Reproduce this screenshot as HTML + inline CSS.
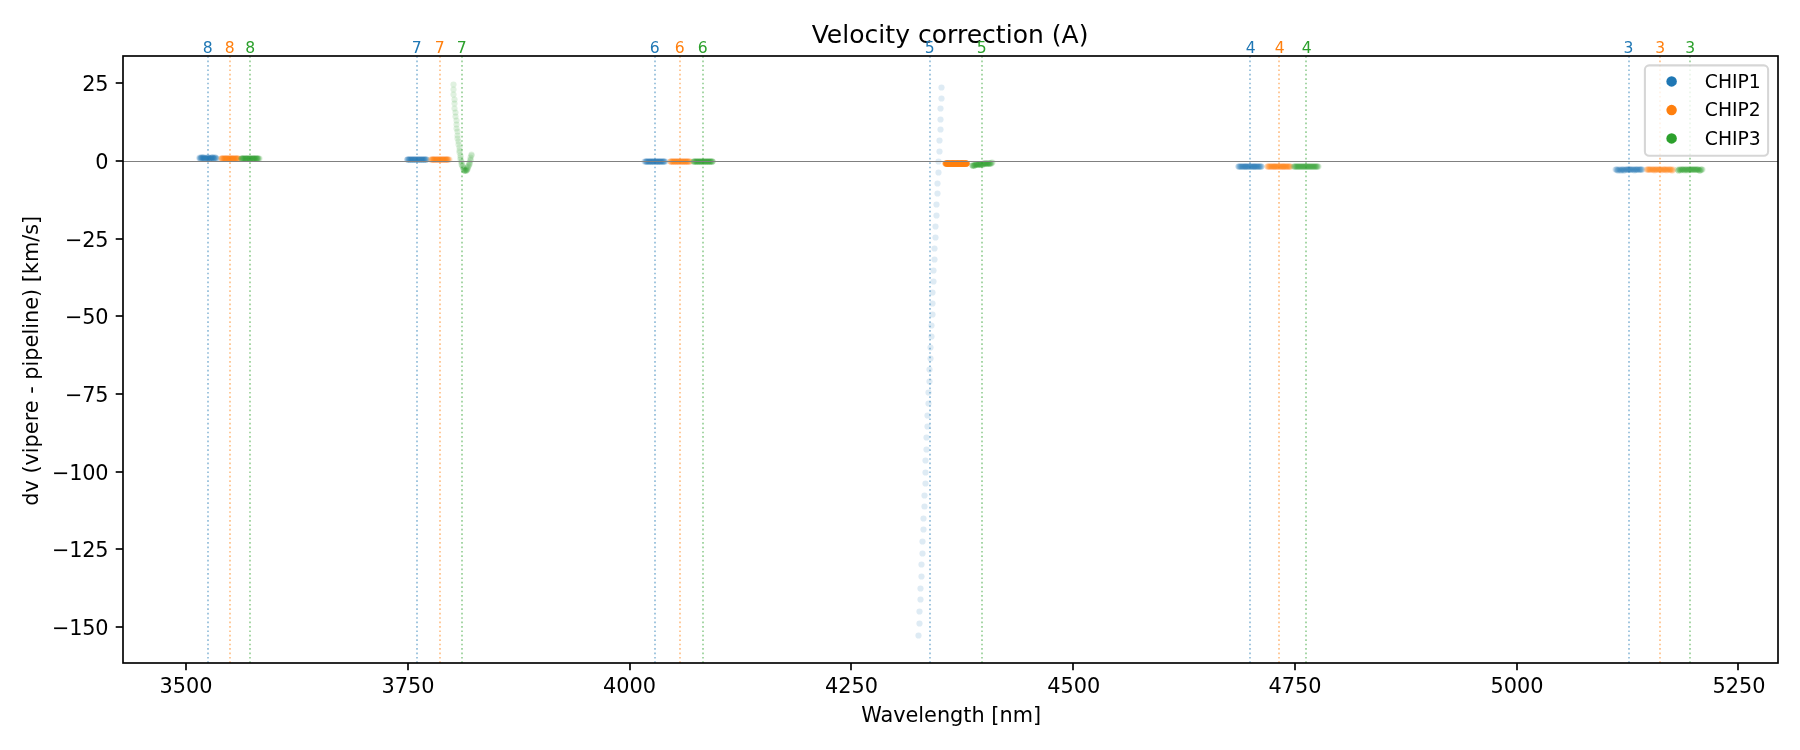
<!DOCTYPE html>
<html><head><meta charset="utf-8"><title>Velocity correction (A)</title>
<style>html,body{margin:0;padding:0;background:#fff;overflow:hidden}svg{display:block;will-change:transform}</style></head>
<body>
<svg width="1800" height="750" viewBox="0 0 1800 750" font-family='"DejaVu Sans","Liberation Sans",sans-serif'>
<rect width="1800" height="750" fill="#fff"/>
<defs><clipPath id="ax"><rect x="123.0" y="56.0" width="1655.0" height="607.0"/></clipPath></defs>
<g clip-path="url(#ax)">
<g fill="#1f77b4" fill-opacity="0.15"><circle cx="199.5" cy="157.5" r="3.1"/><circle cx="199.5" cy="158.5" r="3.1"/><circle cx="200.5" cy="157.5" r="3.1"/><circle cx="200.5" cy="158.5" r="3.1"/><circle cx="200.5" cy="158.5" r="3.1"/><circle cx="201.5" cy="157.5" r="3.1"/><circle cx="201.5" cy="157.5" r="3.1"/><circle cx="201.5" cy="158.5" r="3.1"/><circle cx="202.5" cy="157.5" r="3.1"/><circle cx="202.5" cy="157.5" r="3.1"/><circle cx="202.5" cy="158.5" r="3.1"/><circle cx="203.5" cy="157.5" r="3.1"/><circle cx="203.5" cy="158.5" r="3.1"/><circle cx="203.5" cy="157.5" r="3.1"/><circle cx="204.5" cy="158.5" r="3.1"/><circle cx="204.5" cy="157.5" r="3.1"/><circle cx="204.5" cy="158.5" r="3.1"/><circle cx="205.5" cy="158.5" r="3.1"/><circle cx="205.5" cy="158.5" r="3.1"/><circle cx="205.5" cy="158.5" r="3.1"/><circle cx="206.5" cy="158.5" r="3.1"/><circle cx="206.5" cy="157.5" r="3.1"/><circle cx="207.5" cy="158.5" r="3.1"/><circle cx="207.5" cy="158.5" r="3.1"/><circle cx="207.5" cy="157.5" r="3.1"/><circle cx="208.5" cy="157.5" r="3.1"/><circle cx="208.5" cy="158.5" r="3.1"/><circle cx="208.5" cy="157.5" r="3.1"/><circle cx="209.5" cy="158.5" r="3.1"/><circle cx="209.5" cy="158.5" r="3.1"/><circle cx="209.5" cy="158.5" r="3.1"/><circle cx="210.5" cy="158.5" r="3.1"/><circle cx="210.5" cy="157.5" r="3.1"/><circle cx="210.5" cy="158.5" r="3.1"/><circle cx="211.5" cy="157.5" r="3.1"/><circle cx="211.5" cy="158.5" r="3.1"/><circle cx="211.5" cy="158.5" r="3.1"/><circle cx="212.5" cy="157.5" r="3.1"/><circle cx="212.5" cy="157.5" r="3.1"/><circle cx="212.5" cy="157.5" r="3.1"/><circle cx="213.5" cy="158.5" r="3.1"/><circle cx="213.5" cy="157.5" r="3.1"/><circle cx="213.5" cy="158.5" r="3.1"/><circle cx="214.5" cy="157.5" r="3.1"/><circle cx="214.5" cy="158.5" r="3.1"/><circle cx="215.5" cy="157.5" r="3.1"/><circle cx="215.5" cy="157.5" r="3.1"/><circle cx="215.5" cy="158.5" r="3.1"/><circle cx="216.5" cy="158.5" r="3.1"/><circle cx="216.5" cy="158.5" r="3.1"/></g>
<g fill="#ff7f0e" fill-opacity="0.15"><circle cx="221.5" cy="158.5" r="3.1"/><circle cx="221.5" cy="158.5" r="3.1"/><circle cx="221.5" cy="158.5" r="3.1"/><circle cx="222.5" cy="158.5" r="3.1"/><circle cx="222.5" cy="158.5" r="3.1"/><circle cx="222.5" cy="158.5" r="3.1"/><circle cx="223.5" cy="158.5" r="3.1"/><circle cx="223.5" cy="158.5" r="3.1"/><circle cx="224.5" cy="158.5" r="3.1"/><circle cx="224.5" cy="158.5" r="3.1"/><circle cx="224.5" cy="158.5" r="3.1"/><circle cx="225.5" cy="158.5" r="3.1"/><circle cx="225.5" cy="158.5" r="3.1"/><circle cx="225.5" cy="158.5" r="3.1"/><circle cx="226.5" cy="158.5" r="3.1"/><circle cx="226.5" cy="158.5" r="3.1"/><circle cx="226.5" cy="158.5" r="3.1"/><circle cx="227.5" cy="158.5" r="3.1"/><circle cx="227.5" cy="158.5" r="3.1"/><circle cx="227.5" cy="158.5" r="3.1"/><circle cx="228.5" cy="158.5" r="3.1"/><circle cx="228.5" cy="158.5" r="3.1"/><circle cx="229.5" cy="158.5" r="3.1"/><circle cx="229.5" cy="158.5" r="3.1"/><circle cx="229.5" cy="158.5" r="3.1"/><circle cx="230.5" cy="158.5" r="3.1"/><circle cx="230.5" cy="158.5" r="3.1"/><circle cx="230.5" cy="158.5" r="3.1"/><circle cx="231.5" cy="158.5" r="3.1"/><circle cx="231.5" cy="158.5" r="3.1"/><circle cx="231.5" cy="158.5" r="3.1"/><circle cx="232.5" cy="158.5" r="3.1"/><circle cx="232.5" cy="158.5" r="3.1"/><circle cx="232.5" cy="158.5" r="3.1"/><circle cx="233.5" cy="158.5" r="3.1"/><circle cx="233.5" cy="158.5" r="3.1"/><circle cx="233.5" cy="158.5" r="3.1"/><circle cx="234.5" cy="158.5" r="3.1"/><circle cx="234.5" cy="158.5" r="3.1"/><circle cx="235.5" cy="158.5" r="3.1"/><circle cx="235.5" cy="158.5" r="3.1"/><circle cx="235.5" cy="158.5" r="3.1"/><circle cx="236.5" cy="158.5" r="3.1"/><circle cx="236.5" cy="158.5" r="3.1"/><circle cx="236.5" cy="158.5" r="3.1"/><circle cx="237.5" cy="158.5" r="3.1"/><circle cx="237.5" cy="158.5" r="3.1"/><circle cx="237.5" cy="158.5" r="3.1"/><circle cx="238.5" cy="158.5" r="3.1"/><circle cx="238.5" cy="158.5" r="3.1"/></g>
<g fill="#2ca02c" fill-opacity="0.15"><circle cx="241.5" cy="158.5" r="3.1"/><circle cx="241.5" cy="158.5" r="3.1"/><circle cx="241.5" cy="158.5" r="3.1"/><circle cx="242.5" cy="158.5" r="3.1"/><circle cx="242.5" cy="158.5" r="3.1"/><circle cx="242.5" cy="158.5" r="3.1"/><circle cx="243.5" cy="158.5" r="3.1"/><circle cx="243.5" cy="158.5" r="3.1"/><circle cx="243.5" cy="158.5" r="3.1"/><circle cx="244.5" cy="158.5" r="3.1"/><circle cx="244.5" cy="158.5" r="3.1"/><circle cx="245.5" cy="158.5" r="3.1"/><circle cx="245.5" cy="158.5" r="3.1"/><circle cx="245.5" cy="158.5" r="3.1"/><circle cx="246.5" cy="158.5" r="3.1"/><circle cx="246.5" cy="158.5" r="3.1"/><circle cx="246.5" cy="158.5" r="3.1"/><circle cx="247.5" cy="158.5" r="3.1"/><circle cx="247.5" cy="158.5" r="3.1"/><circle cx="247.5" cy="158.5" r="3.1"/><circle cx="248.5" cy="158.5" r="3.1"/><circle cx="248.5" cy="158.5" r="3.1"/><circle cx="249.5" cy="158.5" r="3.1"/><circle cx="249.5" cy="158.5" r="3.1"/><circle cx="249.5" cy="158.5" r="3.1"/><circle cx="250.5" cy="158.5" r="3.1"/><circle cx="250.5" cy="158.5" r="3.1"/><circle cx="250.5" cy="158.5" r="3.1"/><circle cx="251.5" cy="158.5" r="3.1"/><circle cx="251.5" cy="158.5" r="3.1"/><circle cx="252.5" cy="158.5" r="3.1"/><circle cx="252.5" cy="158.5" r="3.1"/><circle cx="252.5" cy="158.5" r="3.1"/><circle cx="253.5" cy="158.5" r="3.1"/><circle cx="253.5" cy="158.5" r="3.1"/><circle cx="253.5" cy="158.5" r="3.1"/><circle cx="254.5" cy="158.5" r="3.1"/><circle cx="254.5" cy="158.5" r="3.1"/><circle cx="254.5" cy="158.5" r="3.1"/><circle cx="255.5" cy="158.5" r="3.1"/><circle cx="255.5" cy="158.5" r="3.1"/><circle cx="256.5" cy="158.5" r="3.1"/><circle cx="256.5" cy="158.5" r="3.1"/><circle cx="256.5" cy="158.5" r="3.1"/><circle cx="257.5" cy="158.5" r="3.1"/><circle cx="257.5" cy="158.5" r="3.1"/><circle cx="257.5" cy="158.5" r="3.1"/><circle cx="258.5" cy="158.5" r="3.1"/><circle cx="258.5" cy="158.5" r="3.1"/><circle cx="259.5" cy="158.5" r="3.1"/></g>
<g fill="#1f77b4" fill-opacity="0.15"><circle cx="407.5" cy="159.5" r="3.1"/><circle cx="407.5" cy="159.5" r="3.1"/><circle cx="407.5" cy="159.5" r="3.1"/><circle cx="408.5" cy="159.5" r="3.1"/><circle cx="408.5" cy="159.5" r="3.1"/><circle cx="409.5" cy="159.5" r="3.1"/><circle cx="409.5" cy="159.5" r="3.1"/><circle cx="409.5" cy="159.5" r="3.1"/><circle cx="410.5" cy="159.5" r="3.1"/><circle cx="410.5" cy="159.5" r="3.1"/><circle cx="411.5" cy="159.5" r="3.1"/><circle cx="411.5" cy="159.5" r="3.1"/><circle cx="411.5" cy="159.5" r="3.1"/><circle cx="412.5" cy="159.5" r="3.1"/><circle cx="412.5" cy="159.5" r="3.1"/><circle cx="413.5" cy="159.5" r="3.1"/><circle cx="413.5" cy="159.5" r="3.1"/><circle cx="413.5" cy="159.5" r="3.1"/><circle cx="414.5" cy="159.5" r="3.1"/><circle cx="414.5" cy="159.5" r="3.1"/><circle cx="415.5" cy="159.5" r="3.1"/><circle cx="415.5" cy="159.5" r="3.1"/><circle cx="415.5" cy="159.5" r="3.1"/><circle cx="416.5" cy="159.5" r="3.1"/><circle cx="416.5" cy="159.5" r="3.1"/><circle cx="417.5" cy="159.5" r="3.1"/><circle cx="417.5" cy="159.5" r="3.1"/><circle cx="418.5" cy="159.5" r="3.1"/><circle cx="418.5" cy="159.5" r="3.1"/><circle cx="418.5" cy="159.5" r="3.1"/><circle cx="419.5" cy="159.5" r="3.1"/><circle cx="419.5" cy="159.5" r="3.1"/><circle cx="420.5" cy="159.5" r="3.1"/><circle cx="420.5" cy="159.5" r="3.1"/><circle cx="420.5" cy="159.5" r="3.1"/><circle cx="421.5" cy="159.5" r="3.1"/><circle cx="421.5" cy="159.5" r="3.1"/><circle cx="422.5" cy="159.5" r="3.1"/><circle cx="422.5" cy="159.5" r="3.1"/><circle cx="422.5" cy="159.5" r="3.1"/><circle cx="423.5" cy="159.5" r="3.1"/><circle cx="423.5" cy="159.5" r="3.1"/><circle cx="424.5" cy="159.5" r="3.1"/><circle cx="424.5" cy="159.5" r="3.1"/><circle cx="424.5" cy="159.5" r="3.1"/><circle cx="425.5" cy="159.5" r="3.1"/><circle cx="425.5" cy="159.5" r="3.1"/><circle cx="426.5" cy="159.5" r="3.1"/><circle cx="426.5" cy="159.5" r="3.1"/><circle cx="426.5" cy="159.5" r="3.1"/></g>
<g fill="#ff7f0e" fill-opacity="0.15"><circle cx="430.5" cy="159.5" r="3.1"/><circle cx="431.5" cy="159.5" r="3.1"/><circle cx="431.5" cy="159.5" r="3.1"/><circle cx="432.5" cy="159.5" r="3.1"/><circle cx="432.5" cy="159.5" r="3.1"/><circle cx="432.5" cy="159.5" r="3.1"/><circle cx="433.5" cy="159.5" r="3.1"/><circle cx="433.5" cy="159.5" r="3.1"/><circle cx="433.5" cy="159.5" r="3.1"/><circle cx="434.5" cy="159.5" r="3.1"/><circle cx="434.5" cy="159.5" r="3.1"/><circle cx="434.5" cy="159.5" r="3.1"/><circle cx="435.5" cy="159.5" r="3.1"/><circle cx="435.5" cy="159.5" r="3.1"/><circle cx="436.5" cy="159.5" r="3.1"/><circle cx="436.5" cy="159.5" r="3.1"/><circle cx="436.5" cy="159.5" r="3.1"/><circle cx="437.5" cy="159.5" r="3.1"/><circle cx="437.5" cy="159.5" r="3.1"/><circle cx="437.5" cy="159.5" r="3.1"/><circle cx="438.5" cy="159.5" r="3.1"/><circle cx="438.5" cy="159.5" r="3.1"/><circle cx="439.5" cy="159.5" r="3.1"/><circle cx="439.5" cy="159.5" r="3.1"/><circle cx="439.5" cy="159.5" r="3.1"/><circle cx="440.5" cy="159.5" r="3.1"/><circle cx="440.5" cy="159.5" r="3.1"/><circle cx="440.5" cy="159.5" r="3.1"/><circle cx="441.5" cy="159.5" r="3.1"/><circle cx="441.5" cy="159.5" r="3.1"/><circle cx="442.5" cy="159.5" r="3.1"/><circle cx="442.5" cy="159.5" r="3.1"/><circle cx="442.5" cy="159.5" r="3.1"/><circle cx="443.5" cy="159.5" r="3.1"/><circle cx="443.5" cy="159.5" r="3.1"/><circle cx="443.5" cy="159.5" r="3.1"/><circle cx="444.5" cy="159.5" r="3.1"/><circle cx="444.5" cy="159.5" r="3.1"/><circle cx="445.5" cy="159.5" r="3.1"/><circle cx="445.5" cy="159.5" r="3.1"/><circle cx="445.5" cy="159.5" r="3.1"/><circle cx="446.5" cy="159.5" r="3.1"/><circle cx="446.5" cy="159.5" r="3.1"/><circle cx="446.5" cy="159.5" r="3.1"/><circle cx="447.5" cy="159.5" r="3.1"/><circle cx="447.5" cy="159.5" r="3.1"/><circle cx="447.5" cy="159.5" r="3.1"/><circle cx="448.5" cy="159.5" r="3.1"/><circle cx="448.5" cy="159.5" r="3.1"/><circle cx="449.5" cy="159.5" r="3.1"/></g>
<g fill="#1f77b4" fill-opacity="0.15"><circle cx="644.5" cy="161.5" r="3.1"/><circle cx="645.5" cy="161.5" r="3.1"/><circle cx="645.5" cy="161.5" r="3.1"/><circle cx="646.5" cy="161.5" r="3.1"/><circle cx="646.5" cy="161.5" r="3.1"/><circle cx="646.5" cy="161.5" r="3.1"/><circle cx="647.5" cy="161.5" r="3.1"/><circle cx="647.5" cy="161.5" r="3.1"/><circle cx="648.5" cy="161.5" r="3.1"/><circle cx="648.5" cy="161.5" r="3.1"/><circle cx="649.5" cy="161.5" r="3.1"/><circle cx="649.5" cy="161.5" r="3.1"/><circle cx="649.5" cy="161.5" r="3.1"/><circle cx="650.5" cy="161.5" r="3.1"/><circle cx="650.5" cy="161.5" r="3.1"/><circle cx="651.5" cy="161.5" r="3.1"/><circle cx="651.5" cy="161.5" r="3.1"/><circle cx="651.5" cy="161.5" r="3.1"/><circle cx="652.5" cy="161.5" r="3.1"/><circle cx="652.5" cy="161.5" r="3.1"/><circle cx="653.5" cy="161.5" r="3.1"/><circle cx="653.5" cy="161.5" r="3.1"/><circle cx="653.5" cy="161.5" r="3.1"/><circle cx="654.5" cy="161.5" r="3.1"/><circle cx="654.5" cy="161.5" r="3.1"/><circle cx="655.5" cy="161.5" r="3.1"/><circle cx="655.5" cy="161.5" r="3.1"/><circle cx="656.5" cy="161.5" r="3.1"/><circle cx="656.5" cy="161.5" r="3.1"/><circle cx="656.5" cy="161.5" r="3.1"/><circle cx="657.5" cy="161.5" r="3.1"/><circle cx="657.5" cy="161.5" r="3.1"/><circle cx="658.5" cy="161.5" r="3.1"/><circle cx="658.5" cy="161.5" r="3.1"/><circle cx="658.5" cy="161.5" r="3.1"/><circle cx="659.5" cy="161.5" r="3.1"/><circle cx="659.5" cy="161.5" r="3.1"/><circle cx="660.5" cy="161.5" r="3.1"/><circle cx="660.5" cy="161.5" r="3.1"/><circle cx="660.5" cy="161.5" r="3.1"/><circle cx="661.5" cy="161.5" r="3.1"/><circle cx="661.5" cy="161.5" r="3.1"/><circle cx="662.5" cy="161.5" r="3.1"/><circle cx="662.5" cy="161.5" r="3.1"/><circle cx="663.5" cy="161.5" r="3.1"/><circle cx="663.5" cy="161.5" r="3.1"/><circle cx="663.5" cy="161.5" r="3.1"/><circle cx="664.5" cy="161.5" r="3.1"/><circle cx="664.5" cy="161.5" r="3.1"/><circle cx="665.5" cy="161.5" r="3.1"/></g>
<g fill="#ff7f0e" fill-opacity="0.15"><circle cx="670.5" cy="161.5" r="3.1"/><circle cx="670.5" cy="161.5" r="3.1"/><circle cx="670.5" cy="161.5" r="3.1"/><circle cx="671.5" cy="161.5" r="3.1"/><circle cx="671.5" cy="161.5" r="3.1"/><circle cx="672.5" cy="161.5" r="3.1"/><circle cx="672.5" cy="161.5" r="3.1"/><circle cx="672.5" cy="161.5" r="3.1"/><circle cx="673.5" cy="161.5" r="3.1"/><circle cx="673.5" cy="161.5" r="3.1"/><circle cx="674.5" cy="161.5" r="3.1"/><circle cx="674.5" cy="161.5" r="3.1"/><circle cx="674.5" cy="161.5" r="3.1"/><circle cx="675.5" cy="161.5" r="3.1"/><circle cx="675.5" cy="161.5" r="3.1"/><circle cx="676.5" cy="161.5" r="3.1"/><circle cx="676.5" cy="161.5" r="3.1"/><circle cx="676.5" cy="161.5" r="3.1"/><circle cx="677.5" cy="161.5" r="3.1"/><circle cx="677.5" cy="161.5" r="3.1"/><circle cx="678.5" cy="161.5" r="3.1"/><circle cx="678.5" cy="161.5" r="3.1"/><circle cx="678.5" cy="161.5" r="3.1"/><circle cx="679.5" cy="161.5" r="3.1"/><circle cx="679.5" cy="161.5" r="3.1"/><circle cx="680.5" cy="161.5" r="3.1"/><circle cx="680.5" cy="161.5" r="3.1"/><circle cx="681.5" cy="161.5" r="3.1"/><circle cx="681.5" cy="161.5" r="3.1"/><circle cx="681.5" cy="161.5" r="3.1"/><circle cx="682.5" cy="161.5" r="3.1"/><circle cx="682.5" cy="161.5" r="3.1"/><circle cx="683.5" cy="161.5" r="3.1"/><circle cx="683.5" cy="161.5" r="3.1"/><circle cx="683.5" cy="161.5" r="3.1"/><circle cx="684.5" cy="161.5" r="3.1"/><circle cx="684.5" cy="161.5" r="3.1"/><circle cx="685.5" cy="161.5" r="3.1"/><circle cx="685.5" cy="161.5" r="3.1"/><circle cx="685.5" cy="161.5" r="3.1"/><circle cx="686.5" cy="161.5" r="3.1"/><circle cx="686.5" cy="161.5" r="3.1"/><circle cx="687.5" cy="161.5" r="3.1"/><circle cx="687.5" cy="161.5" r="3.1"/><circle cx="687.5" cy="161.5" r="3.1"/><circle cx="688.5" cy="161.5" r="3.1"/><circle cx="688.5" cy="161.5" r="3.1"/><circle cx="689.5" cy="161.5" r="3.1"/><circle cx="689.5" cy="161.5" r="3.1"/><circle cx="690.5" cy="161.5" r="3.1"/></g>
<g fill="#2ca02c" fill-opacity="0.15"><circle cx="693.5" cy="161.5" r="3.1"/><circle cx="693.5" cy="161.5" r="3.1"/><circle cx="694.5" cy="161.5" r="3.1"/><circle cx="694.5" cy="161.5" r="3.1"/><circle cx="694.5" cy="161.5" r="3.1"/><circle cx="695.5" cy="161.5" r="3.1"/><circle cx="695.5" cy="161.5" r="3.1"/><circle cx="696.5" cy="161.5" r="3.1"/><circle cx="696.5" cy="161.5" r="3.1"/><circle cx="696.5" cy="161.5" r="3.1"/><circle cx="697.5" cy="161.5" r="3.1"/><circle cx="697.5" cy="161.5" r="3.1"/><circle cx="698.5" cy="161.5" r="3.1"/><circle cx="698.5" cy="161.5" r="3.1"/><circle cx="698.5" cy="161.5" r="3.1"/><circle cx="699.5" cy="161.5" r="3.1"/><circle cx="699.5" cy="161.5" r="3.1"/><circle cx="700.5" cy="161.5" r="3.1"/><circle cx="700.5" cy="161.5" r="3.1"/><circle cx="700.5" cy="161.5" r="3.1"/><circle cx="701.5" cy="161.5" r="3.1"/><circle cx="701.5" cy="161.5" r="3.1"/><circle cx="702.5" cy="161.5" r="3.1"/><circle cx="702.5" cy="161.5" r="3.1"/><circle cx="702.5" cy="161.5" r="3.1"/><circle cx="703.5" cy="161.5" r="3.1"/><circle cx="703.5" cy="161.5" r="3.1"/><circle cx="704.5" cy="161.5" r="3.1"/><circle cx="704.5" cy="161.5" r="3.1"/><circle cx="704.5" cy="161.5" r="3.1"/><circle cx="705.5" cy="161.5" r="3.1"/><circle cx="705.5" cy="161.5" r="3.1"/><circle cx="706.5" cy="161.5" r="3.1"/><circle cx="706.5" cy="161.5" r="3.1"/><circle cx="706.5" cy="161.5" r="3.1"/><circle cx="707.5" cy="161.5" r="3.1"/><circle cx="707.5" cy="161.5" r="3.1"/><circle cx="708.5" cy="161.5" r="3.1"/><circle cx="708.5" cy="161.5" r="3.1"/><circle cx="708.5" cy="161.5" r="3.1"/><circle cx="709.5" cy="161.5" r="3.1"/><circle cx="709.5" cy="161.5" r="3.1"/><circle cx="710.5" cy="161.5" r="3.1"/><circle cx="710.5" cy="161.5" r="3.1"/><circle cx="710.5" cy="161.5" r="3.1"/><circle cx="711.5" cy="161.5" r="3.1"/><circle cx="711.5" cy="161.5" r="3.1"/><circle cx="712.5" cy="161.5" r="3.1"/><circle cx="712.5" cy="161.5" r="3.1"/><circle cx="712.5" cy="161.5" r="3.1"/></g>
<g fill="#1f77b4" fill-opacity="0.15"><circle cx="1238.5" cy="166.5" r="3.1"/><circle cx="1238.5" cy="166.5" r="3.1"/><circle cx="1239.5" cy="166.5" r="3.1"/><circle cx="1239.5" cy="166.5" r="3.1"/><circle cx="1240.5" cy="166.5" r="3.1"/><circle cx="1240.5" cy="166.5" r="3.1"/><circle cx="1241.5" cy="166.5" r="3.1"/><circle cx="1241.5" cy="166.5" r="3.1"/><circle cx="1242.5" cy="166.5" r="3.1"/><circle cx="1242.5" cy="166.5" r="3.1"/><circle cx="1243.5" cy="166.5" r="3.1"/><circle cx="1243.5" cy="166.5" r="3.1"/><circle cx="1244.5" cy="166.5" r="3.1"/><circle cx="1244.5" cy="166.5" r="3.1"/><circle cx="1245.5" cy="166.5" r="3.1"/><circle cx="1245.5" cy="166.5" r="3.1"/><circle cx="1245.5" cy="166.5" r="3.1"/><circle cx="1246.5" cy="166.5" r="3.1"/><circle cx="1246.5" cy="166.5" r="3.1"/><circle cx="1247.5" cy="166.5" r="3.1"/><circle cx="1247.5" cy="166.5" r="3.1"/><circle cx="1248.5" cy="166.5" r="3.1"/><circle cx="1248.5" cy="166.5" r="3.1"/><circle cx="1249.5" cy="166.5" r="3.1"/><circle cx="1249.5" cy="166.5" r="3.1"/><circle cx="1250.5" cy="166.5" r="3.1"/><circle cx="1250.5" cy="166.5" r="3.1"/><circle cx="1251.5" cy="166.5" r="3.1"/><circle cx="1251.5" cy="166.5" r="3.1"/><circle cx="1252.5" cy="166.5" r="3.1"/><circle cx="1252.5" cy="166.5" r="3.1"/><circle cx="1253.5" cy="166.5" r="3.1"/><circle cx="1253.5" cy="166.5" r="3.1"/><circle cx="1254.5" cy="166.5" r="3.1"/><circle cx="1254.5" cy="166.5" r="3.1"/><circle cx="1254.5" cy="166.5" r="3.1"/><circle cx="1255.5" cy="166.5" r="3.1"/><circle cx="1255.5" cy="166.5" r="3.1"/><circle cx="1256.5" cy="166.5" r="3.1"/><circle cx="1256.5" cy="166.5" r="3.1"/><circle cx="1257.5" cy="166.5" r="3.1"/><circle cx="1257.5" cy="166.5" r="3.1"/><circle cx="1258.5" cy="166.5" r="3.1"/><circle cx="1258.5" cy="166.5" r="3.1"/><circle cx="1259.5" cy="166.5" r="3.1"/><circle cx="1259.5" cy="166.5" r="3.1"/><circle cx="1260.5" cy="166.5" r="3.1"/><circle cx="1260.5" cy="166.5" r="3.1"/><circle cx="1261.5" cy="166.5" r="3.1"/><circle cx="1261.5" cy="166.5" r="3.1"/></g>
<g fill="#ff7f0e" fill-opacity="0.15"><circle cx="1267.5" cy="166.5" r="3.1"/><circle cx="1267.5" cy="166.5" r="3.1"/><circle cx="1268.5" cy="166.5" r="3.1"/><circle cx="1268.5" cy="166.5" r="3.1"/><circle cx="1269.5" cy="166.5" r="3.1"/><circle cx="1269.5" cy="166.5" r="3.1"/><circle cx="1270.5" cy="166.5" r="3.1"/><circle cx="1270.5" cy="166.5" r="3.1"/><circle cx="1271.5" cy="166.5" r="3.1"/><circle cx="1271.5" cy="166.5" r="3.1"/><circle cx="1272.5" cy="166.5" r="3.1"/><circle cx="1272.5" cy="166.5" r="3.1"/><circle cx="1273.5" cy="166.5" r="3.1"/><circle cx="1273.5" cy="166.5" r="3.1"/><circle cx="1274.5" cy="166.5" r="3.1"/><circle cx="1274.5" cy="166.5" r="3.1"/><circle cx="1274.5" cy="166.5" r="3.1"/><circle cx="1275.5" cy="166.5" r="3.1"/><circle cx="1275.5" cy="166.5" r="3.1"/><circle cx="1276.5" cy="166.5" r="3.1"/><circle cx="1276.5" cy="166.5" r="3.1"/><circle cx="1277.5" cy="166.5" r="3.1"/><circle cx="1277.5" cy="166.5" r="3.1"/><circle cx="1278.5" cy="166.5" r="3.1"/><circle cx="1278.5" cy="166.5" r="3.1"/><circle cx="1279.5" cy="166.5" r="3.1"/><circle cx="1279.5" cy="166.5" r="3.1"/><circle cx="1280.5" cy="166.5" r="3.1"/><circle cx="1280.5" cy="166.5" r="3.1"/><circle cx="1281.5" cy="166.5" r="3.1"/><circle cx="1281.5" cy="166.5" r="3.1"/><circle cx="1282.5" cy="166.5" r="3.1"/><circle cx="1282.5" cy="166.5" r="3.1"/><circle cx="1283.5" cy="166.5" r="3.1"/><circle cx="1283.5" cy="166.5" r="3.1"/><circle cx="1283.5" cy="166.5" r="3.1"/><circle cx="1284.5" cy="166.5" r="3.1"/><circle cx="1284.5" cy="166.5" r="3.1"/><circle cx="1285.5" cy="166.5" r="3.1"/><circle cx="1285.5" cy="166.5" r="3.1"/><circle cx="1286.5" cy="166.5" r="3.1"/><circle cx="1286.5" cy="166.5" r="3.1"/><circle cx="1287.5" cy="166.5" r="3.1"/><circle cx="1287.5" cy="166.5" r="3.1"/><circle cx="1288.5" cy="166.5" r="3.1"/><circle cx="1288.5" cy="166.5" r="3.1"/><circle cx="1289.5" cy="166.5" r="3.1"/><circle cx="1289.5" cy="166.5" r="3.1"/><circle cx="1290.5" cy="166.5" r="3.1"/><circle cx="1290.5" cy="166.5" r="3.1"/></g>
<g fill="#2ca02c" fill-opacity="0.15"><circle cx="1293.5" cy="166.5" r="3.1"/><circle cx="1294.5" cy="166.5" r="3.1"/><circle cx="1294.5" cy="166.5" r="3.1"/><circle cx="1295.5" cy="166.5" r="3.1"/><circle cx="1295.5" cy="166.5" r="3.1"/><circle cx="1296.5" cy="166.5" r="3.1"/><circle cx="1296.5" cy="166.5" r="3.1"/><circle cx="1297.5" cy="166.5" r="3.1"/><circle cx="1297.5" cy="166.5" r="3.1"/><circle cx="1298.5" cy="166.5" r="3.1"/><circle cx="1298.5" cy="166.5" r="3.1"/><circle cx="1299.5" cy="166.5" r="3.1"/><circle cx="1299.5" cy="166.5" r="3.1"/><circle cx="1300.5" cy="166.5" r="3.1"/><circle cx="1300.5" cy="166.5" r="3.1"/><circle cx="1301.5" cy="166.5" r="3.1"/><circle cx="1301.5" cy="166.5" r="3.1"/><circle cx="1302.5" cy="166.5" r="3.1"/><circle cx="1302.5" cy="166.5" r="3.1"/><circle cx="1303.5" cy="166.5" r="3.1"/><circle cx="1303.5" cy="166.5" r="3.1"/><circle cx="1304.5" cy="166.5" r="3.1"/><circle cx="1304.5" cy="166.5" r="3.1"/><circle cx="1305.5" cy="166.5" r="3.1"/><circle cx="1305.5" cy="166.5" r="3.1"/><circle cx="1306.5" cy="166.5" r="3.1"/><circle cx="1306.5" cy="166.5" r="3.1"/><circle cx="1307.5" cy="166.5" r="3.1"/><circle cx="1307.5" cy="166.5" r="3.1"/><circle cx="1308.5" cy="166.5" r="3.1"/><circle cx="1308.5" cy="166.5" r="3.1"/><circle cx="1309.5" cy="166.5" r="3.1"/><circle cx="1309.5" cy="166.5" r="3.1"/><circle cx="1310.5" cy="166.5" r="3.1"/><circle cx="1310.5" cy="166.5" r="3.1"/><circle cx="1311.5" cy="166.5" r="3.1"/><circle cx="1311.5" cy="166.5" r="3.1"/><circle cx="1312.5" cy="166.5" r="3.1"/><circle cx="1312.5" cy="166.5" r="3.1"/><circle cx="1313.5" cy="166.5" r="3.1"/><circle cx="1313.5" cy="166.5" r="3.1"/><circle cx="1314.5" cy="166.5" r="3.1"/><circle cx="1314.5" cy="166.5" r="3.1"/><circle cx="1315.5" cy="166.5" r="3.1"/><circle cx="1315.5" cy="166.5" r="3.1"/><circle cx="1316.5" cy="166.5" r="3.1"/><circle cx="1316.5" cy="166.5" r="3.1"/><circle cx="1317.5" cy="166.5" r="3.1"/><circle cx="1317.5" cy="166.5" r="3.1"/><circle cx="1318.5" cy="166.5" r="3.1"/></g>
<g fill="#1f77b4" fill-opacity="0.15"><circle cx="1615.5" cy="169.5" r="3.1"/><circle cx="1616.5" cy="169.5" r="3.1"/><circle cx="1616.5" cy="169.5" r="3.1"/><circle cx="1617.5" cy="170.5" r="3.1"/><circle cx="1617.5" cy="169.5" r="3.1"/><circle cx="1618.5" cy="170.5" r="3.1"/><circle cx="1618.5" cy="169.5" r="3.1"/><circle cx="1619.5" cy="169.5" r="3.1"/><circle cx="1620.5" cy="170.5" r="3.1"/><circle cx="1620.5" cy="169.5" r="3.1"/><circle cx="1621.5" cy="170.5" r="3.1"/><circle cx="1621.5" cy="169.5" r="3.1"/><circle cx="1622.5" cy="169.5" r="3.1"/><circle cx="1622.5" cy="169.5" r="3.1"/><circle cx="1623.5" cy="169.5" r="3.1"/><circle cx="1623.5" cy="170.5" r="3.1"/><circle cx="1624.5" cy="170.5" r="3.1"/><circle cx="1624.5" cy="169.5" r="3.1"/><circle cx="1625.5" cy="169.5" r="3.1"/><circle cx="1626.5" cy="169.5" r="3.1"/><circle cx="1626.5" cy="169.5" r="3.1"/><circle cx="1627.5" cy="169.5" r="3.1"/><circle cx="1627.5" cy="169.5" r="3.1"/><circle cx="1628.5" cy="169.5" r="3.1"/><circle cx="1628.5" cy="169.5" r="3.1"/><circle cx="1629.5" cy="169.5" r="3.1"/><circle cx="1629.5" cy="169.5" r="3.1"/><circle cx="1630.5" cy="169.5" r="3.1"/><circle cx="1630.5" cy="169.5" r="3.1"/><circle cx="1631.5" cy="169.5" r="3.1"/><circle cx="1631.5" cy="169.5" r="3.1"/><circle cx="1632.5" cy="169.5" r="3.1"/><circle cx="1633.5" cy="169.5" r="3.1"/><circle cx="1633.5" cy="169.5" r="3.1"/><circle cx="1634.5" cy="169.5" r="3.1"/><circle cx="1634.5" cy="170.5" r="3.1"/><circle cx="1635.5" cy="169.5" r="3.1"/><circle cx="1635.5" cy="169.5" r="3.1"/><circle cx="1636.5" cy="169.5" r="3.1"/><circle cx="1636.5" cy="169.5" r="3.1"/><circle cx="1637.5" cy="169.5" r="3.1"/><circle cx="1637.5" cy="169.5" r="3.1"/><circle cx="1638.5" cy="169.5" r="3.1"/><circle cx="1639.5" cy="169.5" r="3.1"/><circle cx="1639.5" cy="169.5" r="3.1"/><circle cx="1640.5" cy="169.5" r="3.1"/><circle cx="1640.5" cy="169.5" r="3.1"/><circle cx="1641.5" cy="169.5" r="3.1"/><circle cx="1641.5" cy="169.5" r="3.1"/><circle cx="1642.5" cy="169.5" r="3.1"/></g>
<g fill="#ff7f0e" fill-opacity="0.15"><circle cx="1646.5" cy="169.5" r="3.1"/><circle cx="1647.5" cy="169.5" r="3.1"/><circle cx="1647.5" cy="169.5" r="3.1"/><circle cx="1648.5" cy="169.5" r="3.1"/><circle cx="1648.5" cy="169.5" r="3.1"/><circle cx="1649.5" cy="169.5" r="3.1"/><circle cx="1649.5" cy="169.5" r="3.1"/><circle cx="1650.5" cy="169.5" r="3.1"/><circle cx="1650.5" cy="169.5" r="3.1"/><circle cx="1651.5" cy="169.5" r="3.1"/><circle cx="1652.5" cy="169.5" r="3.1"/><circle cx="1652.5" cy="169.5" r="3.1"/><circle cx="1653.5" cy="169.5" r="3.1"/><circle cx="1653.5" cy="169.5" r="3.1"/><circle cx="1654.5" cy="169.5" r="3.1"/><circle cx="1654.5" cy="170.5" r="3.1"/><circle cx="1655.5" cy="169.5" r="3.1"/><circle cx="1655.5" cy="169.5" r="3.1"/><circle cx="1656.5" cy="169.5" r="3.1"/><circle cx="1656.5" cy="169.5" r="3.1"/><circle cx="1657.5" cy="169.5" r="3.1"/><circle cx="1658.5" cy="169.5" r="3.1"/><circle cx="1658.5" cy="169.5" r="3.1"/><circle cx="1659.5" cy="169.5" r="3.1"/><circle cx="1659.5" cy="169.5" r="3.1"/><circle cx="1660.5" cy="169.5" r="3.1"/><circle cx="1660.5" cy="169.5" r="3.1"/><circle cx="1661.5" cy="169.5" r="3.1"/><circle cx="1661.5" cy="170.5" r="3.1"/><circle cx="1662.5" cy="169.5" r="3.1"/><circle cx="1663.5" cy="169.5" r="3.1"/><circle cx="1663.5" cy="169.5" r="3.1"/><circle cx="1664.5" cy="169.5" r="3.1"/><circle cx="1664.5" cy="169.5" r="3.1"/><circle cx="1665.5" cy="169.5" r="3.1"/><circle cx="1665.5" cy="169.5" r="3.1"/><circle cx="1666.5" cy="169.5" r="3.1"/><circle cx="1666.5" cy="170.5" r="3.1"/><circle cx="1667.5" cy="169.5" r="3.1"/><circle cx="1667.5" cy="169.5" r="3.1"/><circle cx="1668.5" cy="169.5" r="3.1"/><circle cx="1669.5" cy="169.5" r="3.1"/><circle cx="1669.5" cy="169.5" r="3.1"/><circle cx="1670.5" cy="169.5" r="3.1"/><circle cx="1670.5" cy="169.5" r="3.1"/><circle cx="1671.5" cy="169.5" r="3.1"/><circle cx="1671.5" cy="170.5" r="3.1"/><circle cx="1672.5" cy="169.5" r="3.1"/><circle cx="1672.5" cy="170.5" r="3.1"/><circle cx="1673.5" cy="169.5" r="3.1"/></g>
<g fill="#2ca02c" fill-opacity="0.15"><circle cx="1677.5" cy="169.5" r="3.1"/><circle cx="1678.5" cy="170.5" r="3.1"/><circle cx="1678.5" cy="170.5" r="3.1"/><circle cx="1679.5" cy="169.5" r="3.1"/><circle cx="1679.5" cy="169.5" r="3.1"/><circle cx="1680.5" cy="169.5" r="3.1"/><circle cx="1680.5" cy="170.5" r="3.1"/><circle cx="1681.5" cy="169.5" r="3.1"/><circle cx="1681.5" cy="169.5" r="3.1"/><circle cx="1682.5" cy="169.5" r="3.1"/><circle cx="1682.5" cy="169.5" r="3.1"/><circle cx="1683.5" cy="169.5" r="3.1"/><circle cx="1683.5" cy="169.5" r="3.1"/><circle cx="1684.5" cy="169.5" r="3.1"/><circle cx="1684.5" cy="170.5" r="3.1"/><circle cx="1685.5" cy="169.5" r="3.1"/><circle cx="1685.5" cy="169.5" r="3.1"/><circle cx="1686.5" cy="169.5" r="3.1"/><circle cx="1686.5" cy="169.5" r="3.1"/><circle cx="1687.5" cy="169.5" r="3.1"/><circle cx="1687.5" cy="170.5" r="3.1"/><circle cx="1688.5" cy="169.5" r="3.1"/><circle cx="1688.5" cy="169.5" r="3.1"/><circle cx="1689.5" cy="169.5" r="3.1"/><circle cx="1689.5" cy="169.5" r="3.1"/><circle cx="1690.5" cy="169.5" r="3.1"/><circle cx="1690.5" cy="169.5" r="3.1"/><circle cx="1691.5" cy="169.5" r="3.1"/><circle cx="1691.5" cy="169.5" r="3.1"/><circle cx="1692.5" cy="169.5" r="3.1"/><circle cx="1692.5" cy="169.5" r="3.1"/><circle cx="1693.5" cy="169.5" r="3.1"/><circle cx="1693.5" cy="169.5" r="3.1"/><circle cx="1694.5" cy="169.5" r="3.1"/><circle cx="1694.5" cy="169.5" r="3.1"/><circle cx="1695.5" cy="169.5" r="3.1"/><circle cx="1695.5" cy="169.5" r="3.1"/><circle cx="1696.5" cy="169.5" r="3.1"/><circle cx="1696.5" cy="169.5" r="3.1"/><circle cx="1697.5" cy="169.5" r="3.1"/><circle cx="1697.5" cy="169.5" r="3.1"/><circle cx="1698.5" cy="169.5" r="3.1"/><circle cx="1698.5" cy="169.5" r="3.1"/><circle cx="1699.5" cy="170.5" r="3.1"/><circle cx="1699.5" cy="170.5" r="3.1"/><circle cx="1700.5" cy="169.5" r="3.1"/><circle cx="1700.5" cy="170.5" r="3.1"/><circle cx="1701.5" cy="169.5" r="3.1"/><circle cx="1701.5" cy="169.5" r="3.1"/><circle cx="1702.5" cy="169.5" r="3.1"/></g>
<g fill="#1f77b4" fill-opacity="0.15"><circle cx="941.5" cy="87.5" r="3.1"/><circle cx="941.5" cy="98.5" r="3.1"/><circle cx="940.5" cy="108.5" r="3.1"/><circle cx="940.5" cy="119.5" r="3.1"/><circle cx="940.5" cy="129.5" r="3.1"/><circle cx="939.5" cy="140.5" r="3.1"/><circle cx="939.5" cy="151.5" r="3.1"/><circle cx="938.5" cy="161.5" r="3.1"/><circle cx="938.5" cy="172.5" r="3.1"/><circle cx="937.5" cy="183.5" r="3.1"/><circle cx="937.5" cy="193.5" r="3.1"/><circle cx="936.5" cy="204.5" r="3.1"/><circle cx="936.5" cy="215.5" r="3.1"/><circle cx="935.5" cy="226.5" r="3.1"/><circle cx="935.5" cy="237.5" r="3.1"/><circle cx="934.5" cy="248.5" r="3.1"/><circle cx="934.5" cy="259.5" r="3.1"/><circle cx="933.5" cy="270.5" r="3.1"/><circle cx="933.5" cy="281.5" r="3.1"/><circle cx="932.5" cy="292.5" r="3.1"/><circle cx="932.5" cy="303.5" r="3.1"/><circle cx="932.5" cy="314.5" r="3.1"/><circle cx="931.5" cy="325.5" r="3.1"/><circle cx="931.5" cy="336.5" r="3.1"/><circle cx="930.5" cy="347.5" r="3.1"/><circle cx="930.5" cy="358.5" r="3.1"/><circle cx="929.5" cy="369.5" r="3.1"/><circle cx="929.5" cy="381.5" r="3.1"/><circle cx="928.5" cy="392.5" r="3.1"/><circle cx="928.5" cy="403.5" r="3.1"/><circle cx="927.5" cy="415.5" r="3.1"/><circle cx="927.5" cy="426.5" r="3.1"/><circle cx="926.5" cy="437.5" r="3.1"/><circle cx="926.5" cy="449.5" r="3.1"/><circle cx="925.5" cy="460.5" r="3.1"/><circle cx="925.5" cy="472.5" r="3.1"/><circle cx="925.5" cy="483.5" r="3.1"/><circle cx="924.5" cy="495.5" r="3.1"/><circle cx="924.5" cy="506.5" r="3.1"/><circle cx="923.5" cy="518.5" r="3.1"/><circle cx="923.5" cy="529.5" r="3.1"/><circle cx="922.5" cy="541.5" r="3.1"/><circle cx="922.5" cy="553.5" r="3.1"/><circle cx="921.5" cy="564.5" r="3.1"/><circle cx="921.5" cy="576.5" r="3.1"/><circle cx="920.5" cy="588.5" r="3.1"/><circle cx="920.5" cy="599.5" r="3.1"/><circle cx="919.5" cy="611.5" r="3.1"/><circle cx="919.5" cy="623.5" r="3.1"/><circle cx="918.5" cy="635.5" r="3.1"/></g>
<g fill="#ff7f0e" fill-opacity="0.6"><circle cx="945.5" cy="163.5" r="3.1"/><circle cx="946.5" cy="163.5" r="3.1"/><circle cx="946.5" cy="163.5" r="3.1"/><circle cx="946.5" cy="163.5" r="3.1"/><circle cx="947.5" cy="163.5" r="3.1"/><circle cx="947.5" cy="163.5" r="3.1"/><circle cx="947.5" cy="163.5" r="3.1"/><circle cx="948.5" cy="163.5" r="3.1"/><circle cx="948.5" cy="163.5" r="3.1"/><circle cx="948.5" cy="163.5" r="3.1"/><circle cx="949.5" cy="163.5" r="3.1"/><circle cx="949.5" cy="163.5" r="3.1"/><circle cx="949.5" cy="163.5" r="3.1"/><circle cx="950.5" cy="163.5" r="3.1"/><circle cx="950.5" cy="163.5" r="3.1"/><circle cx="951.5" cy="163.5" r="3.1"/><circle cx="951.5" cy="163.5" r="3.1"/><circle cx="951.5" cy="163.5" r="3.1"/><circle cx="952.5" cy="163.5" r="3.1"/><circle cx="952.5" cy="163.5" r="3.1"/><circle cx="952.5" cy="163.5" r="3.1"/><circle cx="953.5" cy="163.5" r="3.1"/><circle cx="953.5" cy="163.5" r="3.1"/><circle cx="953.5" cy="163.5" r="3.1"/><circle cx="954.5" cy="163.5" r="3.1"/><circle cx="954.5" cy="163.5" r="3.1"/><circle cx="954.5" cy="163.5" r="3.1"/><circle cx="955.5" cy="163.5" r="3.1"/><circle cx="955.5" cy="163.5" r="3.1"/><circle cx="956.5" cy="163.5" r="3.1"/><circle cx="956.5" cy="163.5" r="3.1"/><circle cx="956.5" cy="163.5" r="3.1"/><circle cx="957.5" cy="163.5" r="3.1"/><circle cx="957.5" cy="163.5" r="3.1"/><circle cx="957.5" cy="163.5" r="3.1"/><circle cx="958.5" cy="163.5" r="3.1"/><circle cx="958.5" cy="163.5" r="3.1"/><circle cx="958.5" cy="163.5" r="3.1"/><circle cx="959.5" cy="163.5" r="3.1"/><circle cx="959.5" cy="163.5" r="3.1"/><circle cx="960.5" cy="163.5" r="3.1"/><circle cx="960.5" cy="163.5" r="3.1"/><circle cx="960.5" cy="163.5" r="3.1"/><circle cx="961.5" cy="163.5" r="3.1"/><circle cx="961.5" cy="163.5" r="3.1"/><circle cx="961.5" cy="163.5" r="3.1"/><circle cx="962.5" cy="163.5" r="3.1"/><circle cx="962.5" cy="163.5" r="3.1"/><circle cx="962.5" cy="163.5" r="3.1"/><circle cx="963.5" cy="163.5" r="3.1"/><circle cx="963.5" cy="163.5" r="3.1"/><circle cx="963.5" cy="163.5" r="3.1"/><circle cx="964.5" cy="163.5" r="3.1"/><circle cx="964.5" cy="163.5" r="3.1"/><circle cx="965.5" cy="163.5" r="3.1"/><circle cx="965.5" cy="163.5" r="3.1"/><circle cx="965.5" cy="163.5" r="3.1"/><circle cx="966.5" cy="163.5" r="3.1"/><circle cx="966.5" cy="163.5" r="3.1"/><circle cx="966.5" cy="163.5" r="3.1"/></g>
<g fill="#2ca02c" fill-opacity="0.15"><circle cx="972.5" cy="165.5" r="3.1"/><circle cx="972.5" cy="165.5" r="3.1"/><circle cx="972.5" cy="165.5" r="3.1"/><circle cx="973.5" cy="165.5" r="3.1"/><circle cx="973.5" cy="165.5" r="3.1"/><circle cx="974.5" cy="165.5" r="3.1"/><circle cx="974.5" cy="165.5" r="3.1"/><circle cx="974.5" cy="165.5" r="3.1"/><circle cx="975.5" cy="164.5" r="3.1"/><circle cx="975.5" cy="164.5" r="3.1"/><circle cx="976.5" cy="164.5" r="3.1"/><circle cx="976.5" cy="164.5" r="3.1"/><circle cx="976.5" cy="164.5" r="3.1"/><circle cx="977.5" cy="164.5" r="3.1"/><circle cx="977.5" cy="164.5" r="3.1"/><circle cx="978.5" cy="164.5" r="3.1"/><circle cx="978.5" cy="164.5" r="3.1"/><circle cx="978.5" cy="164.5" r="3.1"/><circle cx="979.5" cy="164.5" r="3.1"/><circle cx="979.5" cy="164.5" r="3.1"/><circle cx="980.5" cy="164.5" r="3.1"/><circle cx="980.5" cy="164.5" r="3.1"/><circle cx="980.5" cy="164.5" r="3.1"/><circle cx="981.5" cy="164.5" r="3.1"/><circle cx="981.5" cy="164.5" r="3.1"/><circle cx="982.5" cy="164.5" r="3.1"/><circle cx="982.5" cy="164.5" r="3.1"/><circle cx="983.5" cy="164.5" r="3.1"/><circle cx="983.5" cy="163.5" r="3.1"/><circle cx="983.5" cy="163.5" r="3.1"/><circle cx="984.5" cy="163.5" r="3.1"/><circle cx="984.5" cy="163.5" r="3.1"/><circle cx="985.5" cy="163.5" r="3.1"/><circle cx="985.5" cy="163.5" r="3.1"/><circle cx="985.5" cy="163.5" r="3.1"/><circle cx="986.5" cy="163.5" r="3.1"/><circle cx="986.5" cy="163.5" r="3.1"/><circle cx="987.5" cy="163.5" r="3.1"/><circle cx="987.5" cy="163.5" r="3.1"/><circle cx="987.5" cy="163.5" r="3.1"/><circle cx="988.5" cy="163.5" r="3.1"/><circle cx="988.5" cy="163.5" r="3.1"/><circle cx="989.5" cy="163.5" r="3.1"/><circle cx="989.5" cy="163.5" r="3.1"/><circle cx="989.5" cy="163.5" r="3.1"/><circle cx="990.5" cy="163.5" r="3.1"/><circle cx="990.5" cy="163.5" r="3.1"/><circle cx="991.5" cy="163.5" r="3.1"/><circle cx="991.5" cy="162.5" r="3.1"/><circle cx="992.5" cy="162.5" r="3.1"/></g>
<g fill="#2ca02c" fill-opacity="0.15"><circle cx="453.5" cy="84.5" r="3.1"/><circle cx="453.5" cy="89.5" r="3.1"/><circle cx="453.5" cy="94.5" r="3.1"/><circle cx="454.5" cy="99.5" r="3.1"/><circle cx="454.5" cy="103.5" r="3.1"/><circle cx="454.5" cy="108.5" r="3.1"/><circle cx="455.5" cy="112.5" r="3.1"/><circle cx="455.5" cy="116.5" r="3.1"/><circle cx="456.5" cy="120.5" r="3.1"/><circle cx="456.5" cy="124.5" r="3.1"/><circle cx="456.5" cy="128.5" r="3.1"/><circle cx="457.5" cy="131.5" r="3.1"/><circle cx="457.5" cy="135.5" r="3.1"/><circle cx="457.5" cy="138.5" r="3.1"/><circle cx="458.5" cy="141.5" r="3.1"/><circle cx="458.5" cy="144.5" r="3.1"/><circle cx="459.5" cy="147.5" r="3.1"/><circle cx="459.5" cy="150.5" r="3.1"/><circle cx="459.5" cy="152.5" r="3.1"/><circle cx="460.5" cy="155.5" r="3.1"/><circle cx="460.5" cy="157.5" r="3.1"/><circle cx="460.5" cy="159.5" r="3.1"/><circle cx="461.5" cy="161.5" r="3.1"/><circle cx="461.5" cy="162.5" r="3.1"/><circle cx="461.5" cy="164.5" r="3.1"/><circle cx="462.5" cy="165.5" r="3.1"/><circle cx="462.5" cy="166.5" r="3.1"/><circle cx="463.5" cy="167.5" r="3.1"/><circle cx="463.5" cy="168.5" r="3.1"/><circle cx="463.5" cy="169.5" r="3.1"/><circle cx="464.5" cy="170.5" r="3.1"/><circle cx="464.5" cy="170.5" r="3.1"/><circle cx="464.5" cy="170.5" r="3.1"/><circle cx="465.5" cy="170.5" r="3.1"/><circle cx="465.5" cy="170.5" r="3.1"/><circle cx="466.5" cy="170.5" r="3.1"/><circle cx="466.5" cy="170.5" r="3.1"/><circle cx="466.5" cy="169.5" r="3.1"/><circle cx="467.5" cy="169.5" r="3.1"/><circle cx="467.5" cy="168.5" r="3.1"/><circle cx="467.5" cy="167.5" r="3.1"/><circle cx="468.5" cy="166.5" r="3.1"/><circle cx="468.5" cy="165.5" r="3.1"/><circle cx="469.5" cy="164.5" r="3.1"/><circle cx="469.5" cy="163.5" r="3.1"/><circle cx="469.5" cy="162.5" r="3.1"/><circle cx="470.5" cy="160.5" r="3.1"/><circle cx="470.5" cy="159.5" r="3.1"/><circle cx="470.5" cy="157.5" r="3.1"/><circle cx="471.5" cy="155.5" r="3.1"/><circle cx="471.5" cy="154.5" r="3.1"/></g>
<line x1="208" y1="663.0" x2="208" y2="56.0" stroke="#1f77b4" stroke-opacity="0.5" stroke-width="1.667" stroke-dasharray="1.667 2.75"/>
<line x1="230" y1="663.0" x2="230" y2="56.0" stroke="#ff7f0e" stroke-opacity="0.5" stroke-width="1.667" stroke-dasharray="1.667 2.75"/>
<line x1="250" y1="663.0" x2="250" y2="56.0" stroke="#2ca02c" stroke-opacity="0.5" stroke-width="1.667" stroke-dasharray="1.667 2.75"/>
<line x1="417" y1="663.0" x2="417" y2="56.0" stroke="#1f77b4" stroke-opacity="0.5" stroke-width="1.667" stroke-dasharray="1.667 2.75"/>
<line x1="440" y1="663.0" x2="440" y2="56.0" stroke="#ff7f0e" stroke-opacity="0.5" stroke-width="1.667" stroke-dasharray="1.667 2.75"/>
<line x1="462" y1="663.0" x2="462" y2="56.0" stroke="#2ca02c" stroke-opacity="0.5" stroke-width="1.667" stroke-dasharray="1.667 2.75"/>
<line x1="655" y1="663.0" x2="655" y2="56.0" stroke="#1f77b4" stroke-opacity="0.5" stroke-width="1.667" stroke-dasharray="1.667 2.75"/>
<line x1="680" y1="663.0" x2="680" y2="56.0" stroke="#ff7f0e" stroke-opacity="0.5" stroke-width="1.667" stroke-dasharray="1.667 2.75"/>
<line x1="703" y1="663.0" x2="703" y2="56.0" stroke="#2ca02c" stroke-opacity="0.5" stroke-width="1.667" stroke-dasharray="1.667 2.75"/>
<line x1="930" y1="663.0" x2="930" y2="56.0" stroke="#1f77b4" stroke-opacity="0.5" stroke-width="1.667" stroke-dasharray="1.667 2.75"/>
<line x1="982" y1="663.0" x2="982" y2="56.0" stroke="#2ca02c" stroke-opacity="0.5" stroke-width="1.667" stroke-dasharray="1.667 2.75"/>
<line x1="1250" y1="663.0" x2="1250" y2="56.0" stroke="#1f77b4" stroke-opacity="0.5" stroke-width="1.667" stroke-dasharray="1.667 2.75"/>
<line x1="1279" y1="663.0" x2="1279" y2="56.0" stroke="#ff7f0e" stroke-opacity="0.5" stroke-width="1.667" stroke-dasharray="1.667 2.75"/>
<line x1="1306" y1="663.0" x2="1306" y2="56.0" stroke="#2ca02c" stroke-opacity="0.5" stroke-width="1.667" stroke-dasharray="1.667 2.75"/>
<line x1="1629" y1="663.0" x2="1629" y2="56.0" stroke="#1f77b4" stroke-opacity="0.5" stroke-width="1.667" stroke-dasharray="1.667 2.75"/>
<line x1="1660" y1="663.0" x2="1660" y2="56.0" stroke="#ff7f0e" stroke-opacity="0.5" stroke-width="1.667" stroke-dasharray="1.667 2.75"/>
<line x1="1690" y1="663.0" x2="1690" y2="56.0" stroke="#2ca02c" stroke-opacity="0.5" stroke-width="1.667" stroke-dasharray="1.667 2.75"/>
<line x1="123.0" y1="161.5" x2="1778.0" y2="161.5" stroke="#808080" stroke-width="1.04"/>
</g>
<rect x="123.0" y="56.0" width="1655.0" height="607.0" fill="none" stroke="#000" stroke-width="1.667" stroke-linejoin="miter"/>
<g stroke="#000" stroke-width="1.667"><line x1="186" y1="663.0" x2="186" y2="670.29"/><line x1="408" y1="663.0" x2="408" y2="670.29"/><line x1="630" y1="663.0" x2="630" y2="670.29"/><line x1="851" y1="663.0" x2="851" y2="670.29"/><line x1="1073" y1="663.0" x2="1073" y2="670.29"/><line x1="1295" y1="663.0" x2="1295" y2="670.29"/><line x1="1517" y1="663.0" x2="1517" y2="670.29"/><line x1="1738" y1="663.0" x2="1738" y2="670.29"/><line x1="123.0" y1="83" x2="115.71" y2="83"/><line x1="123.0" y1="161" x2="115.71" y2="161"/><line x1="123.0" y1="239" x2="115.71" y2="239"/><line x1="123.0" y1="316" x2="115.71" y2="316"/><line x1="123.0" y1="394" x2="115.71" y2="394"/><line x1="123.0" y1="472" x2="115.71" y2="472"/><line x1="123.0" y1="549" x2="115.71" y2="549"/><line x1="123.0" y1="627" x2="115.71" y2="627"/></g>
<g font-size="20.83px" fill="#000"><text x="186" y="692.8" text-anchor="middle">3500</text><text x="408" y="692.8" text-anchor="middle">3750</text><text x="629.6" y="692.8" text-anchor="middle">4000</text><text x="851.6" y="692.8" text-anchor="middle">4250</text><text x="1073.8" y="692.8" text-anchor="middle">4500</text><text x="1295" y="692.8" text-anchor="middle">4750</text><text x="1517" y="692.8" text-anchor="middle">5000</text><text x="1739.0" y="692.8" text-anchor="middle">5250</text><text x="108.1" y="90.6" text-anchor="end" letter-spacing="-0.3">25</text><text x="108.1" y="168.6" text-anchor="end" letter-spacing="-0.3">0</text><text x="108.1" y="246.6" text-anchor="end" letter-spacing="-0.3">−25</text><text x="108.1" y="323.6" text-anchor="end" letter-spacing="-0.3">−50</text><text x="108.1" y="401.6" text-anchor="end" letter-spacing="-0.3">−75</text><text x="108.1" y="479.6" text-anchor="end" letter-spacing="-0.3">−100</text><text x="108.1" y="556.6" text-anchor="end" letter-spacing="-0.3">−125</text><text x="108.1" y="634.6" text-anchor="end" letter-spacing="-0.3">−150</text><text x="951.1" y="722" text-anchor="middle">Wavelength [nm]</text><text transform="translate(38.2,360.8) rotate(-90)" text-anchor="middle">dv (vipere - pipeline) [km/s]</text></g>
<text x="950.1" y="42.8" font-size="25px" letter-spacing="0.03" text-anchor="middle" fill="#000">Velocity correction (A)</text>
<g font-size="15.6px" text-anchor="middle"><text x="207.7" y="52.8" fill="#1f77b4">8</text><text x="229.7" y="52.8" fill="#ff7f0e">8</text><text x="250.3" y="52.8" fill="#2ca02c">8</text><text x="416.7" y="52.8" fill="#1f77b4">7</text><text x="439.7" y="52.8" fill="#ff7f0e">7</text><text x="461.7" y="52.8" fill="#2ca02c">7</text><text x="654.7" y="52.8" fill="#1f77b4">6</text><text x="679.7" y="52.8" fill="#ff7f0e">6</text><text x="702.7" y="52.8" fill="#2ca02c">6</text><text x="929.7" y="52.8" fill="#1f77b4">5</text><text x="981.7" y="52.8" fill="#2ca02c">5</text><text x="1250.6" y="52.8" fill="#1f77b4">4</text><text x="1279.7" y="52.8" fill="#ff7f0e">4</text><text x="1306.6" y="52.8" fill="#2ca02c">4</text><text x="1628.4" y="52.8" fill="#1f77b4">3</text><text x="1660.2" y="52.8" fill="#ff7f0e">3</text><text x="1690.3" y="52.8" fill="#2ca02c">3</text></g>
<rect x="1644.9" y="65.4" width="123.19999999999982" height="90.4" rx="4.2" fill="#fff" fill-opacity="0.8" stroke="#ccc" stroke-opacity="0.8" stroke-width="2.08"/>
<circle cx="1671.6" cy="81.4" r="5.25" fill="#1f77b4"/>
<text x="1704.8" y="87.8" font-size="18.75px" fill="#000">CHIP1</text>
<circle cx="1671.6" cy="110.1" r="5.25" fill="#ff7f0e"/>
<text x="1704.8" y="116.3" font-size="18.75px" fill="#000">CHIP2</text>
<circle cx="1671.6" cy="138.4" r="5.25" fill="#2ca02c"/>
<text x="1704.8" y="145.0" font-size="18.75px" fill="#000">CHIP3</text>
</svg>
</body></html>
